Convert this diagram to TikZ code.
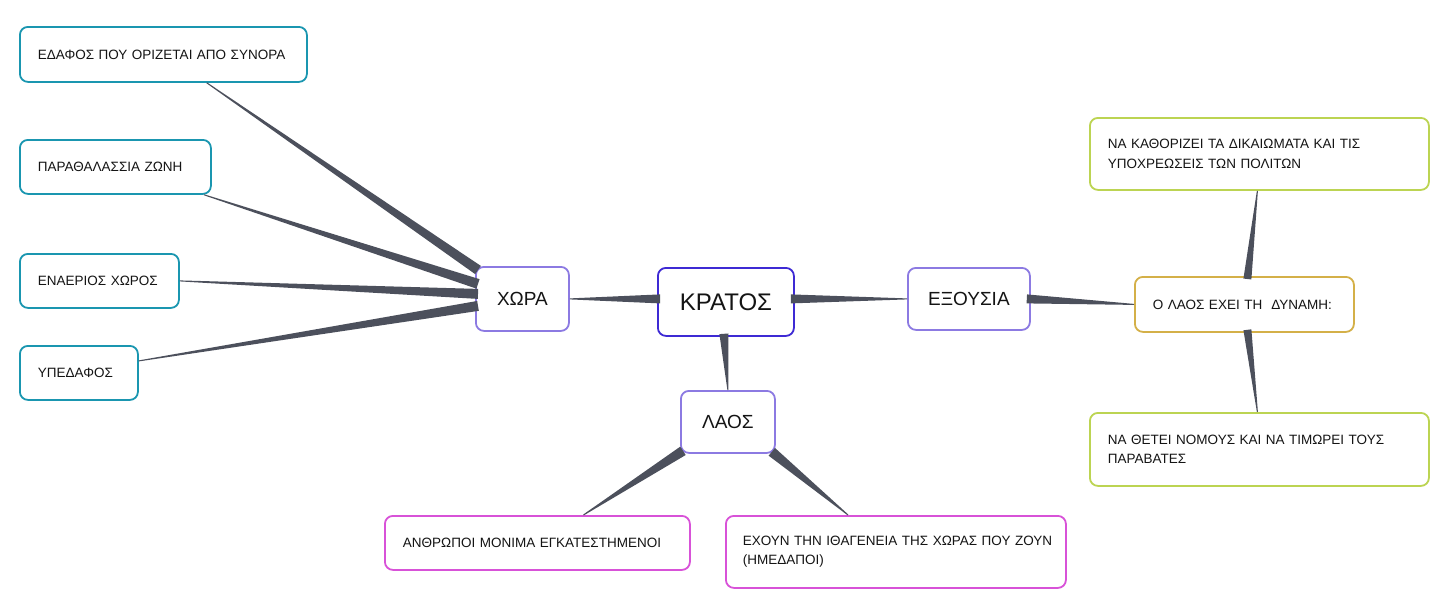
\documentclass[tikz,border=0pt]{standalone}
\usepackage{fontspec}
\setmainfont{Liberation Sans}
\usetikzlibrary{calc}
\definecolor{tealc}{RGB}{26,150,176}
\definecolor{lilac}{RGB}{140,122,226}
\definecolor{kratosc}{RGB}{62,42,212}
\definecolor{goldc}{RGB}{212,176,72}
\definecolor{limec}{RGB}{188,212,82}
\definecolor{magc}{RGB}{216,82,216}
\definecolor{connc}{RGB}{76,80,92}
\definecolor{txtc}{RGB}{20,20,20}
\tikzset{
  mmbox/.style={draw, rounded corners=8pt, line width=1.8pt, fill=white, text=txtc, inner ysep=2pt, anchor=north west},
  leafbox/.style={mmbox, align=left, inner xsep=18pt, font=\fontsize{13.5}{19.5}\selectfont},
  mainbox/.style={mmbox, align=center, inner xsep=0pt, font=\fontsize{19}{22}\selectfont},
  conn/.style={fill=connc},
}
\newcommand\taperconn[3]{%
  \fill[conn] ($(#1)!#3!90:(#2)$) -- ($(#2)!0.5pt!-90:(#1)$) -- ($(#2)!0.5pt!90:(#1)$) -- ($(#1)!#3!-90:(#2)$) -- cycle;}
\begin{document}
\begin{tikzpicture}[x=1pt,y=-1pt]
\useasboundingbox (0,0) rectangle (1437,600);
% left leaves
\node[leafbox, draw=tealc, text width=251pt, minimum height=55pt] (edafos) at (19,26) {\mbox{ΕΔΑΦΟΣ ΠΟΥ ΟΡΙΖΕΤΑΙ ΑΠΟ ΣΥΝΟΡΑ}};
\node[leafbox, draw=tealc, text width=155pt, minimum height=54pt] (parath) at (19,139) {ΠΑΡΑΘΑΛΑΣΣΙΑ ΖΩΝΗ};
\node[leafbox, draw=tealc, text width=123pt, minimum height=54pt] (enaer) at (19,253) {ΕΝΑΕΡΙΟΣ ΧΩΡΟΣ};
\node[leafbox, draw=tealc, text width=82pt, minimum height=54pt] (yped) at (19,345) {ΥΠΕΔΑΦΟΣ};
% main nodes
\node[mainbox, draw=lilac, minimum width=93pt, minimum height=64pt] (xora) at (475,266) {ΧΩΡΑ};
\node[mainbox, draw=kratosc, minimum width=136pt, minimum height=68pt, font=\fontsize{24}{28}\selectfont] (kratos) at (657,267) {ΚΡΑΤΟΣ};
\node[mainbox, draw=lilac, minimum width=122pt, minimum height=62pt] (exousia) at (907,267) {ΕΞΟΥΣΙΑ};
\node[mainbox, draw=lilac, minimum width=94pt, minimum height=62pt] (laos) at (680,390) {ΛΑΟΣ};
% right
\node[leafbox, draw=goldc, text width=183pt, minimum height=55pt] (laosdyn) at (1134,276) {\mbox{Ο ΛΑΟΣ ΕΧΕΙ ΤΗ\ \ ΔΥΝΑΜΗ:}};
\node[leafbox, draw=limec, text width=303pt, minimum height=72pt] (kathor) at (1089,117) {\mbox{ΝΑ ΚΑΘΟΡΙΖΕΙ ΤΑ ΔΙΚΑΙΩΜΑΤΑ ΚΑΙ ΤΙΣ}\\\mbox{ΥΠΟΧΡΕΩΣΕΙΣ ΤΩΝ ΠΟΛΙΤΩΝ}};
\node[leafbox, draw=limec, text width=303pt, minimum height=73pt] (thetei) at (1089,412) {\mbox{ΝΑ ΘΕΤΕΙ ΝΟΜΟΥΣ ΚΑΙ ΝΑ ΤΙΜΩΡΕΙ ΤΟΥΣ}\\ΠΑΡΑΒΑΤΕΣ};
% bottom
\node[leafbox, draw=magc, text width=269pt, minimum height=54pt] (anthr) at (384,515) {\mbox{ΑΝΘΡΩΠΟΙ ΜΟΝΙΜΑ ΕΓΚΑΤΕΣΤΗΜΕΝΟΙ}};
\node[leafbox, draw=magc, text width=306pt, minimum height=72pt, inner xsep=17pt] (exoun) at (725,515) {\mbox{ΕΧΟΥΝ ΤΗΝ ΙΘΑΓΕΝΕΙΑ ΤΗΣ ΧΩΡΑΣ ΠΟΥ ΖΟΥΝ}\\(ΗΜΕΔΑΠΟΙ)};
% connector end points
\coordinate (kx) at ($(kratos.west)+(3,-3)$);
\coordinate (ke) at ($(kratos.east)+(-4,-3)$);
\coordinate (kl) at ($(kratos.south)+(-2,-3)$);
\coordinate (ed) at ($(exousia.east)+(-4,0)$);
\coordinate (dk) at ($(laosdyn.north)+(3,3)$);
\coordinate (dt) at ($(laosdyn.south)+(3,-3)$);
\coordinate (kt) at ($(kathor.south)+(-2,0)$);
\coordinate (tt) at ($(thetei.north)+(-2,0)$);
\coordinate (la) at ($(laos.south west)+(3,-3)$);
\coordinate (le) at ($(laos.south east)+(-4,-2)$);
\coordinate (at) at ($(anthr.north west)!0.65!(anthr.north east)$);
\coordinate (et) at ($(exoun.north west)!0.36!(exoun.north east)$);
\coordinate (x1) at ($(xora.north west)+(3,4)$);
\coordinate (x2) at ($(xora.west)+(3,-15)$);
\coordinate (x3) at ($(xora.west)+(3,-5)$);
\coordinate (x4) at ($(xora.west)+(3,7)$);
\coordinate (edt) at ($(edafos.south west)!0.65!(edafos.south east)$);
\coordinate (pat) at ($(parath.south west)!0.96!(parath.south east)$);
\coordinate (ypt) at ($(yped.east)+(0,-12)$);
% connectors
\taperconn{kx}{xora.east}{4.5pt}
\taperconn{ke}{exousia.west}{4.5pt}
\taperconn{kl}{laos.north}{4.5pt}
\taperconn{ed}{laosdyn.west}{4.5pt}
\taperconn{dk}{kt}{4pt}
\taperconn{dt}{tt}{4pt}
\taperconn{la}{at}{5pt}
\taperconn{le}{et}{5pt}
\taperconn{x1}{edt}{5pt}
\taperconn{x2}{pat}{5pt}
\taperconn{x3}{enaer.east}{5pt}
\taperconn{x4}{ypt}{5pt}
\end{tikzpicture}
\end{document}
